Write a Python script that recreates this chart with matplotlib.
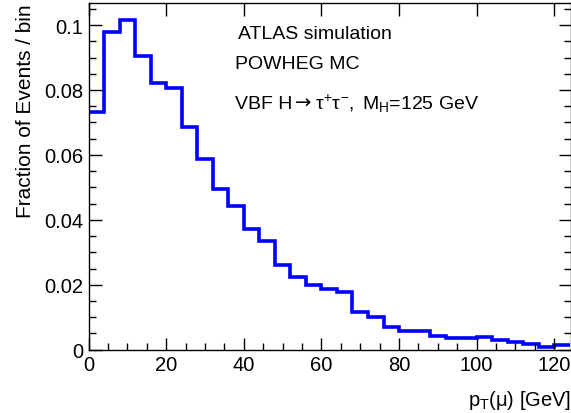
import numpy as np
import matplotlib
matplotlib.use("Agg")
import matplotlib.pyplot as plt
from matplotlib.ticker import MultipleLocator, FuncFormatter

plt.rcParams['font.family'] = ['Liberation Sans', 'DejaVu Sans']
plt.rcParams['mathtext.fontset'] = 'custom'
plt.rcParams['mathtext.rm'] = 'Liberation Sans'
plt.rcParams['mathtext.it'] = 'Liberation Sans'
plt.rcParams['mathtext.bf'] = 'Liberation Sans:bold'

# Data: fraction of events per 4 GeV bin
bin_edges = np.arange(0, 128, 4)
fractions = [0.0733, 0.0978, 0.1017, 0.0906, 0.0822, 0.0806, 0.0685, 0.0588,
             0.0495, 0.0444, 0.0372, 0.0336, 0.0262, 0.0223, 0.0199, 0.0187,
             0.0179, 0.0115, 0.0102, 0.0069, 0.0059, 0.0057, 0.0043, 0.0036,
             0.0036, 0.0039, 0.0030, 0.0024, 0.0018, 0.0007, 0.0013]
x_ticks = [0, 20, 40, 60, 80, 100, 120]
y_ticks = [0, 0.02, 0.04, 0.06, 0.08, 0.1]

W, H = 571, 414
fig = plt.figure(figsize=(W/100, H/100), dpi=100)
ax = fig.add_axes([88.5/W, (H-350.7)/H, (W-88.5)/W, (350.7-4)/H])

ax.stairs(fractions, bin_edges, baseline=None, color=(0, 0, 1), linewidth=2.6)

ax.set_xlim(0, 124.3)
ax.set_ylim(0, 0.1068)

ax.set_xticks(x_ticks)
ax.set_yticks(y_ticks)
ax.xaxis.set_minor_locator(MultipleLocator(5))
ax.yaxis.set_minor_locator(MultipleLocator(0.005))
ax.yaxis.set_major_formatter(FuncFormatter(lambda v, p: "%g" % v))
ax.tick_params(which='both', direction='in', top=True, right=True, labelsize=14.5, pad=4)
ax.tick_params(which='major', length=9, width=1)
ax.tick_params(which='minor', length=5, width=1)
ax.tick_params(axis='x', which='minor', top=False)
for s in ax.spines.values():
    s.set_linewidth(1)

ax.set_ylabel("Fraction of Events / bin", fontsize=15, loc='top', labelpad=6)
ax.set_xlabel(r"p$_{T}$($\mu$) [GeV]", fontsize=14.5, loc='right', labelpad=10)

fig.text(238/W, 1 - 39/H, "ATLAS simulation", fontsize=14, va='baseline', ha='left')
fig.text(235/W, 1 - 69/H, "POWHEG MC", fontsize=14, va='baseline', ha='left')

# VBF line composed of pieces so the arrow can be drawn with a longer glyph
yb = 1 - 109/H
parts = [("VBF H", None, 0), ("\u2192", "DejaVu Sans", 3),
         (r"$\tau^{+}\tau^{-}$,", None, 3), (r"M$_{H}$=125 GeV", None, 8)]
x = 235
fig.canvas.draw()
renderer = fig.canvas.get_renderer()
for txt, fam, gap in parts:
    x += gap
    kw = {}
    if fam:
        kw['family'] = fam
    t = fig.text(x/W, yb, txt, fontsize=14, va='baseline', ha='left', **kw)
    bb = t.get_window_extent(renderer=renderer)
    x = bb.x1

fig.savefig("out.png", dpi=100)
